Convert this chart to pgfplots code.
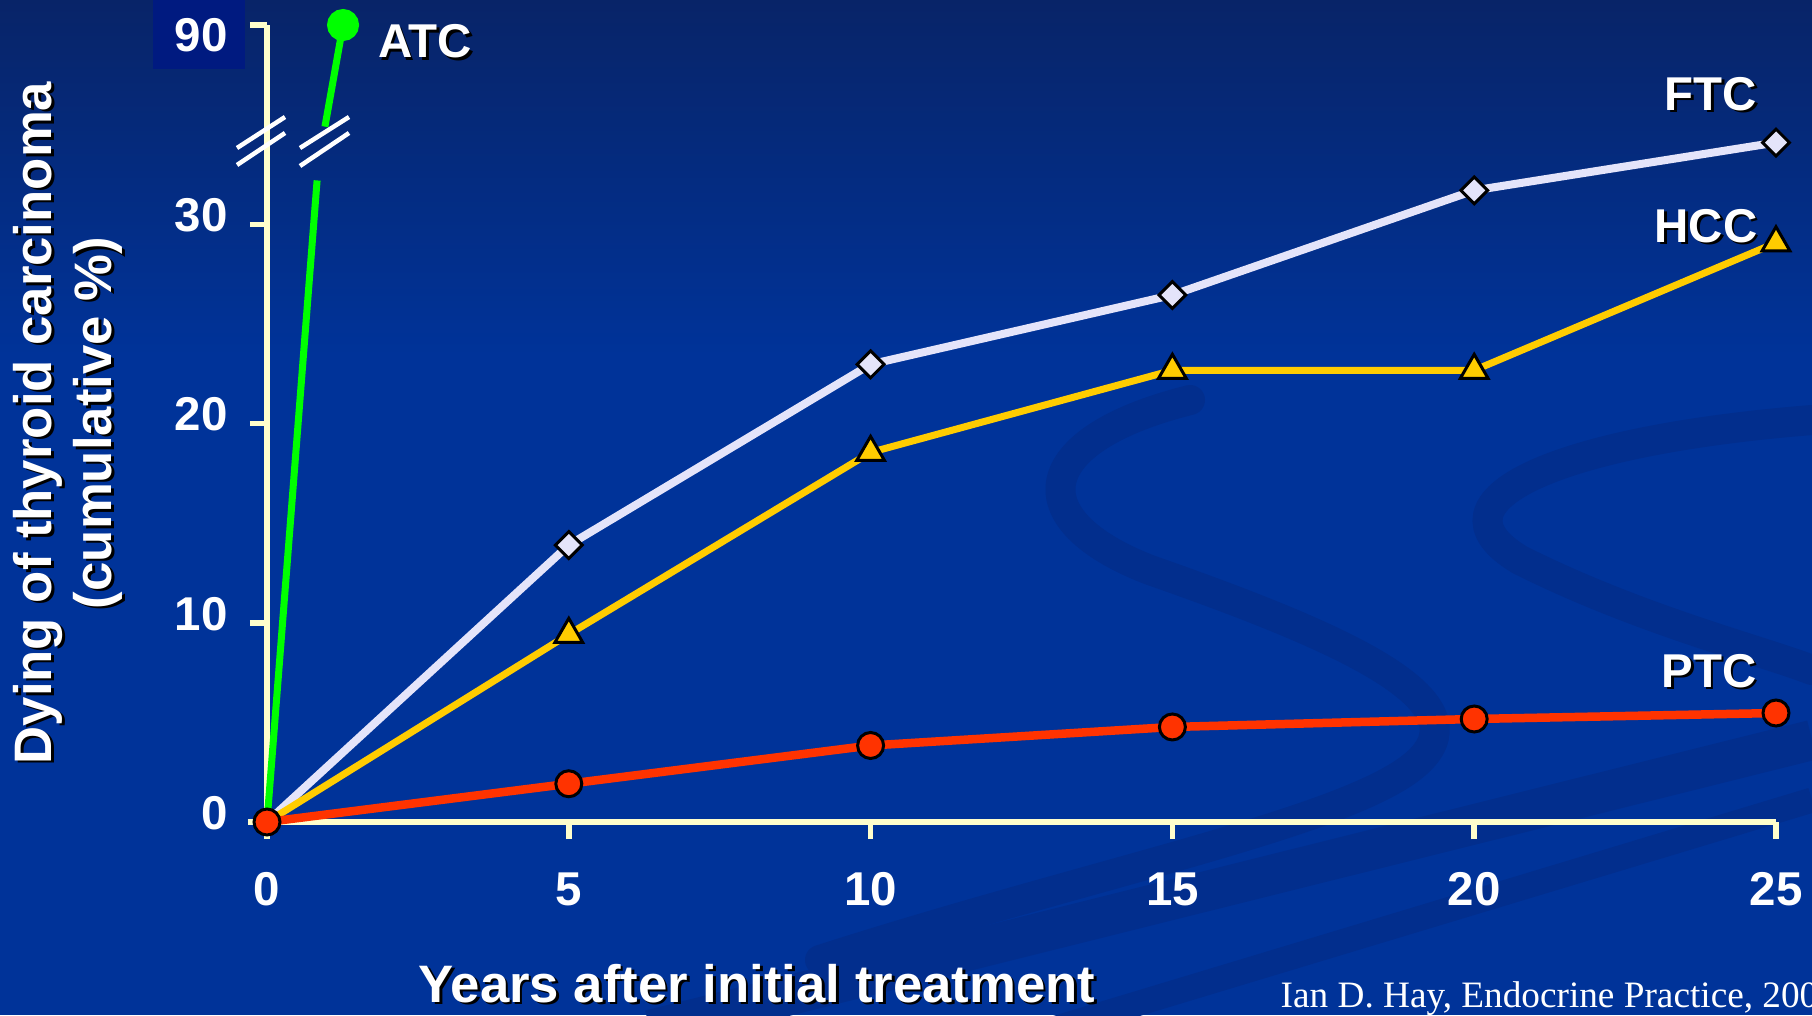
\documentclass[border=0pt]{standalone}
\usepackage{fontspec}
\setmainfont{Liberation Sans}
\newfontfamily\citefont{Liberation Serif}
\usepackage{pgfplots}
\pgfplotsset{compat=1.18}
\definecolor{bgmid}{RGB}{0,51,153}
\definecolor{bgtop}{RGB}{8,36,104}
\definecolor{boxc}{RGB}{0,26,128}
\definecolor{cream}{RGB}{255,255,204}
\definecolor{ftc}{RGB}{228,228,250}
\definecolor{hcc}{RGB}{255,204,0}
\definecolor{ptc}{RGB}{255,51,0}
\definecolor{atc}{RGB}{0,255,0}
\definecolor{swirl}{RGB}{2,46,141}
\newcommand{\shtext}[3]{%
  \node[text=black,#3] at ([shift={(0.25mm,-0.25mm)}]#1) {#2};
  \node[text=white,#3] at ([shift={(0mm,0mm)}]#1) {#2};}
\begin{document}
\begin{tikzpicture}
\useasboundingbox (0,0) rectangle (181.2mm,101.5mm);
\fill[bgmid] (0,0) rectangle (181.2mm,101.5mm);
\shade[top color=bgtop, bottom color=bgmid] (0,66mm) rectangle (181.2mm,101.5mm);
\begin{scope}[x=0.1mm,y=-0.1mm,yshift=101.5mm]
  % faint background swirls
  \draw[swirl, line width=3mm, line cap=round] (1190,400) .. controls (1030,440) and (1020,520) .. (1150,570) .. controls (1350,640) and (1480,700) .. (1420,760) .. controls (1360,820) and (1100,870) .. (820,960);
  \draw[swirl, line width=3mm, line cap=round] (1812,420) .. controls (1560,440) and (1420,500) .. (1520,560) .. controls (1640,620) and (1760,650) .. (1812,670);
  \draw[swirl, line width=4mm] (650,1030) -- (1812,740);
  \draw[swirl, line width=2.5mm] (1050,1030) -- (1812,800);
  % dark box behind 90
  \fill[boxc] (153,0) rectangle (245,69);
\end{scope}
\begin{axis}[
  at={(26.7mm,19.3mm)}, anchor=south west,
  scale only axis, width=150.9mm, height=79.7mm,
  xmin=0, xmax=25, ymin=0, ymax=40,
  axis x line=bottom, axis y line=left,
  axis line style={-, cream, line width=0.6mm},
  x axis line style={shorten <=-1.9mm},
  xtick={0,5,10,15,20,25}, ytick={0,10,20,30},
  extra y ticks={40}, extra y tick labels={90},
  extra y tick style={yticklabel style={yshift=-1.9mm}},
  tick align=outside, major tick length=1.7mm,
  tick style={cream, line width=0.55mm},
  ticklabel style={font=\fontsize{13.5}{16}\selectfont\bfseries, text=white},
  /pgf/number format/assume math mode=true,
  xticklabel style={yshift=-2.1mm},
  yticklabel style={xshift=-1mm, yshift=0.9mm},
  clip=false,
]
\addplot[ftc, line width=0.8mm, mark=square*, mark size=0.95mm, mark indices={2,3,4,5,6},
  mark options={rotate=45, fill=ftc, draw=black, line width=0.3mm}]
  coordinates {(0,0) (5,13.9) (10,22.97) (15,26.45) (20,31.7) (25,34.1)};
\addplot[hcc, line width=0.7mm, mark=triangle*, mark size=1.6mm, mark indices={2,3,4,5,6},
  mark options={fill=hcc, draw=black, line width=0.3mm}]
  coordinates {(0,0) (5,9.42) (10,18.55) (15,22.67) (20,22.67) (25,29.07)};
\addplot[atc, line width=0.7mm] coordinates {(0,0) (0.83,32.2)};
\addplot[atc, line width=0.7mm, mark=*, mark size=1.25mm, mark options={fill=atc, draw=atc}, mark indices={2}]
  coordinates {(0.96,34.9) (1.26,40)};
\addplot[ptc, line width=0.85mm, mark=*, mark size=1.3mm,
  mark options={fill=ptc, draw=black, line width=0.3mm}]
  coordinates {(0,0) (5,1.92) (10,3.84) (15,4.77) (20,5.17) (25,5.47)};
\end{axis}
\begin{scope}[x=0.1mm,y=-0.1mm,yshift=101.5mm]
  \draw[white, line width=0.45mm] (237,148)--(285,117) (237,165)--(285,133);
  \draw[white, line width=0.45mm] (300,148)--(349,117) (300,166)--(349,133);
  \shtext{425,58}{ATC}{anchor=base, font=\fontsize{13.5}{16}\selectfont\bfseries}
  \shtext{1711,110}{FTC}{anchor=base, font=\fontsize{13.5}{16}\selectfont\bfseries}
  \shtext{1706,242}{HCC}{anchor=base, font=\fontsize{13.5}{16}\selectfont\bfseries}
  \shtext{1709,687}{PTC}{anchor=base, font=\fontsize{13.5}{16}\selectfont\bfseries}
  \shtext{68,423}{Dying of thyroid carcinoma\\(cumulative \%)}{rotate=90, align=center, font=\fontsize{15}{17}\selectfont\bfseries}
  \shtext{757,1002}{Years after initial treatment}{anchor=base, font=\fontsize{15}{17}\selectfont\bfseries}
  \node[text=white, anchor=base west, inner sep=0pt, font=\citefont\fontsize{10.6}{13}\selectfont] at (1280,1007) {Ian D. Hay, Endocrine Practice, 2004};
\end{scope}
\end{tikzpicture}
\end{document}
